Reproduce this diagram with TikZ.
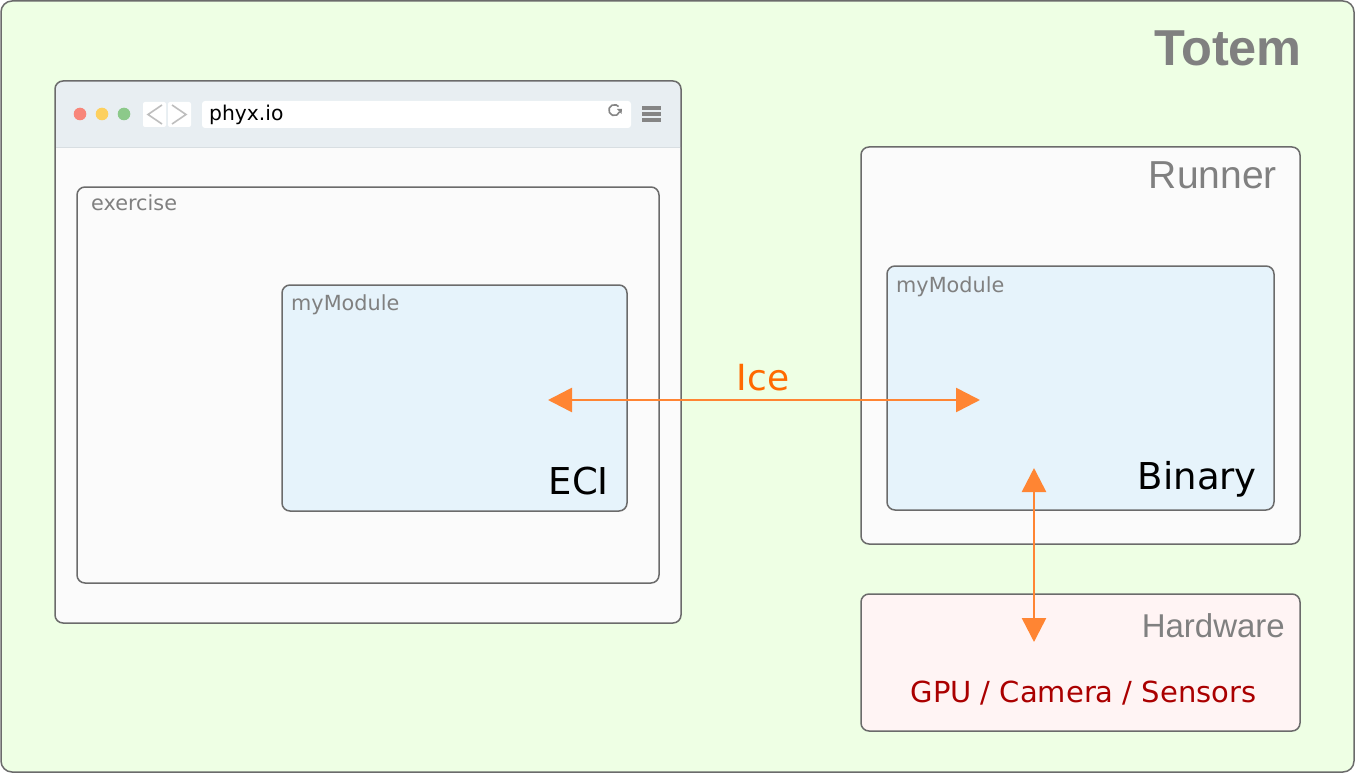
\documentclass[tikz,border=0pt]{standalone}
\usepackage{fontspec}
\setmainfont{DejaVu Sans}
\newfontfamily\titlefont{Liberation Sans}
\usetikzlibrary{arrows.meta}
\definecolor{outerfill}{HTML}{EEFFE4}
\definecolor{boxline}{HTML}{6B6B6B}
\definecolor{headfill}{HTML}{E8EEF2}
\definecolor{headline}{HTML}{D8DEE2}
\definecolor{bodyfill}{HTML}{FBFBFB}
\definecolor{modfill}{HTML}{E6F3FB}
\definecolor{hwfill}{HTML}{FFF4F4}
\definecolor{orangec}{HTML}{FF8533}
\definecolor{icec}{HTML}{FF6A00}
\definecolor{labgray}{HTML}{808080}
\definecolor{hwred}{HTML}{AA0000}
\definecolor{dotred}{HTML}{F8867A}
\definecolor{dotyel}{HTML}{FDD05E}
\definecolor{dotgrn}{HTML}{8CC98A}
\definecolor{navgray}{HTML}{BEBEBE}
\definecolor{icongray}{HTML}{858585}
\tikzset{
  frame/.style={draw=boxline, line width=1.5pt, rounded corners=8pt},
  lab/.style={inner sep=0pt, text=labgray, font=\fontsize{20.8}{21}\selectfont},
  biglab/.style={inner sep=0pt, text=labgray, font=\titlefont\fontsize{39}{39}\selectfont},
  conn/.style={draw=orangec, line width=2.6pt, {Triangle[length=24pt,width=24pt]}-{Triangle[length=24pt,width=24pt]}},
}
\begin{document}
\begin{tikzpicture}[x=1pt,y=-1pt]
\useasboundingbox (0,0) rectangle (1355,773);
% outer
\path[frame, fill=outerfill, rounded corners=11pt] (1,1) rectangle (1354,772);
\node[inner sep=0pt, anchor=base east, text=labgray, font=\titlefont\bfseries\fontsize{50.5}{51}\selectfont] (totem) at (1302,66) {Totem};
% browser
\path[fill=bodyfill, rounded corners=8pt] (55,81) rectangle (681,623);
\path[fill=headfill, rounded corners=8pt] (55,81) rectangle (681,120);
\path[fill=headfill] (55,105) rectangle (681,147);
\draw[headline, line width=1pt] (56,147.5) -- (680,147.5);
\path[frame] (55,81) rectangle (681,623);
\fill[dotred] (80,114) circle (6.3);
\fill[dotyel] (102,114) circle (6.3);
\fill[dotgrn] (124,114) circle (6.3);
\fill[white, rounded corners=2pt] (143,102) rectangle (166,127);
\fill[white, rounded corners=2pt] (168,102) rectangle (191,127);
\draw[navgray, line width=1.6pt] (162,105) -- (148,114.5) -- (162,124);
\draw[navgray, line width=1.6pt] (172,105) -- (186,114.5) -- (172,124);
\fill[white, rounded corners=3pt] (202,101) rectangle (631,128);
\node[inner sep=0pt, anchor=base west, font=\fontsize{20.3}{20}\selectfont] (url) at (209,121) {phyx.io};
\draw[icongray, line width=1.6pt] (619.5,112) arc (20:320:5.5);
\fill[icongray] (617,109) -- (622,109) -- (621.5,114) -- cycle;
\foreach \yy in {108,114,120} \fill[icongray] (642,\yy-1.8) rectangle (661,\yy+1.8);
% exercise
\path[frame, fill=bodyfill] (77,187) rectangle (659,583);
\node[lab, anchor=base west] (exlab) at (91,211) {exercise};
% left module
\path[frame, fill=modfill] (282,285) rectangle (627,511);
\node[lab, anchor=base west] (mod1lab) at (291,310) {myModule};
\node[inner sep=0pt, anchor=base east, font=\fontsize{37}{37}\selectfont] (eci) at (609,494) {ECI};
% runner
\path[frame, fill=bodyfill] (861,147) rectangle (1300,544);
\node[biglab, anchor=base east] (runlab) at (1277,189) {Runner};
\path[frame, fill=modfill] (887,266) rectangle (1274,510);
\node[lab, anchor=base west] (mod2lab) at (896,292) {myModule};
\node[inner sep=0pt, anchor=base east, font=\fontsize{37}{37}\selectfont] (binary) at (1257,489) {Binary};
% hardware
\path[frame, fill=hwfill] (861,594) rectangle (1300,731);
\node[inner sep=0pt, anchor=base east, text=labgray, font=\titlefont\fontsize{33}{33}\selectfont] (hwlab) at (1285,637) {Hardware};
\node[inner sep=0pt, anchor=base, text=hwred, font=\fontsize{29}{29}\selectfont] (hwtext) at (1083.5,702) {GPU / Camera / Sensors};
% connectors
\coordinate (ecip) at (548,400);
\coordinate (binp) at (980,400);
\coordinate (binb) at (1034,468);
\coordinate (hwp) at (1034,642);
\path[conn] (ecip) -- (binp);
\node[inner sep=0pt, anchor=base, text=icec, font=\fontsize{36}{36}\selectfont] (ice) at (763,390) {Ice};
\path[conn] (binb) -- (hwp);
\end{tikzpicture}
\end{document}
